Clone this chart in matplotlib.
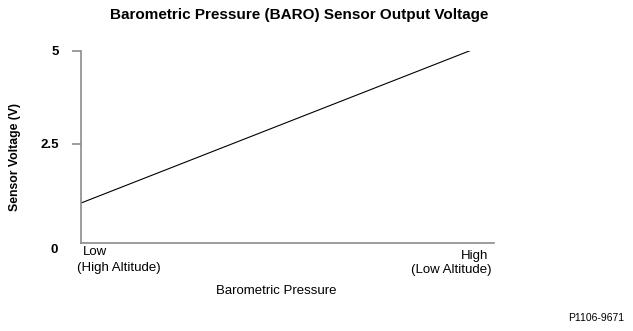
import matplotlib
matplotlib.use("Agg")
import matplotlib.pyplot as plt

# ------------------------
# Data
# ------------------------
pressure = [0.0, 1.0]          # normalised barometric pressure (low -> high)
voltage = [0.9, 5.0]           # sensor output voltage (V)
ytick_vals = [2.5, 5]
ytick_labels = ["2.5", "5"]

plt.rcParams["font.family"] = ["Liberation Sans", "DejaVu Sans"]

fig = plt.figure(figsize=(6.33, 3.31), dpi=100)
W, H = 633, 331
# axes box in pixels: left 80.7, right 494.3, top 50.7, bottom 243.3
ax = fig.add_axes([80.7 / W, 1 - 243.3 / H, (494.3 - 80.7) / W, (243.3 - 50.7) / H])

ax.plot(pressure, voltage, color="black", lw=0.8)
ax.set_xlim(0, 1.0624)
ax.set_ylim(-0.18, 5)

for s in ["top", "right"]:
    ax.spines[s].set_visible(False)
for s in ["left", "bottom"]:
    ax.spines[s].set_color("#8c8c8c")
    ax.spines[s].set_linewidth(1.2)

ax.set_xticks([])
ax.set_yticks(ytick_vals)
ax.set_yticklabels(ytick_labels, fontsize=9.5, fontweight="bold")
ax.tick_params(axis="y", length=6.5, width=1.2, color="#8c8c8c", pad=9)

# zero label sits just below the axis, no tick
ax.text(-0.055, -0.035, "0", transform=ax.transAxes, fontsize=9.5, fontweight="bold",
        ha="right", va="center")

fs = 9.5
ax.text(0.006, -0.045, "Low", transform=ax.transAxes, fontsize=fs, ha="left", va="center")
ax.text(-0.009, -0.13, "(High Altitude)", transform=ax.transAxes, fontsize=fs,
        ha="left", va="center")
ax.text(0.9848, -0.065, "High", transform=ax.transAxes, fontsize=fs, ha="right", va="center")
ax.text(0.9937, -0.14, "(Low Altitude)", transform=ax.transAxes, fontsize=fs,
        ha="right", va="center")

fig.text(276.7 / W, 1 - 290.7 / H, "Barometric Pressure", fontsize=fs, ha="center", va="center")
fig.text(15.5 / W, 1 - 157 / H, "Sensor Voltage (V)", fontsize=8.8, fontweight="bold",
         rotation=90, ha="center", va="center")
fig.text(299 / W, 1 - 15.5 / H, "Barometric Pressure (BARO) Sensor Output Voltage",
         fontsize=11, fontweight="bold", ha="center", va="center")
fig.text(624 / W, 1 - 317.6 / H, "P1106-9671", fontsize=7.5, ha="right", va="center")

fig.savefig("out.png", dpi=100)
